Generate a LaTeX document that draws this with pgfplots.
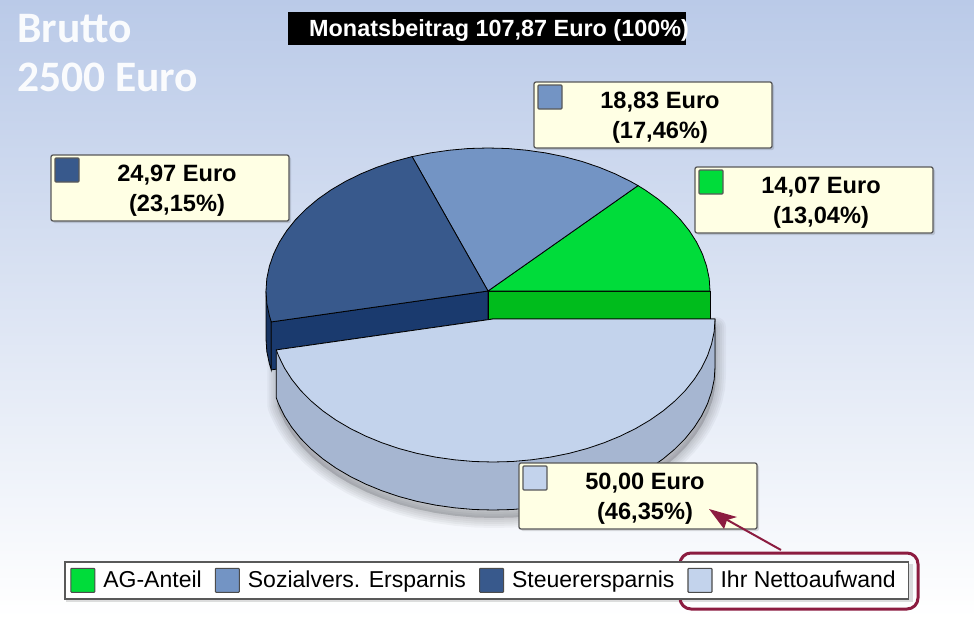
\documentclass[border=0pt]{standalone}
\usepackage{fontspec}
\setmainfont{Liberation Sans}
\newfontfamily\bruttofont{Carlito}
\usepackage{pgfplots}
\usepackage{pgfplotstable}
\pgfplotsset{compat=1.18}
\usetikzlibrary{arrows.meta}
\definecolor{cGreen}{HTML}{00DC3A}
\definecolor{cGreenS}{HTML}{00BC1C}
\definecolor{cBlue}{HTML}{7394C4}
\definecolor{cDark}{HTML}{38598C}
\definecolor{cDarkS}{HTML}{1A3A6E}
\definecolor{cLight}{HTML}{C3D3EC}
\definecolor{cLightS}{HTML}{A6B6D1}
\definecolor{cBox}{HTML}{FFFFE4}
\definecolor{cRed}{HTML}{8C1C40}
\definecolor{bgTop}{HTML}{BACAE8}
\definecolor{bgMid}{HTML}{DFE7F6}
% lower rim of the front slice (depth 48 below its top face)
\pgfplotstableread{
x y
276.3 397.9
278.6 404
284.4 415.9
291.8 427.4
300.7 438.5
311.1 449
322.9 458.9
336 468.1
350.3 476.5
365.7 484.1
382 490.8
399.2 496.6
417.1 501.4
435.5 505.1
454.5 507.8
473.6 509.5
493 510
512.4 509.5
531.5 507.8
550.5 505.1
568.9 501.4
586.8 496.6
604 490.8
620.3 484.1
635.7 476.5
650 468.1
663.1 458.9
674.9 449
685.3 438.5
694.2 427.4
701.6 415.9
707.4 404
711.6 391.8
714.2 379.5
715 367
715 319
493 319
276.3 349.9
}\rimTable
\newcommand{\lab}[6]{%
 \fill[black,opacity=.13,rounded corners=2pt] (axis cs:#1+2,#2+2) rectangle (axis cs:#1+240,#2+68);
 \draw[draw=black!65,line width=1.3pt,fill=cBox,rounded corners=2pt] (axis cs:#1,#2) rectangle (axis cs:#1+238,#2+66);
 \draw[draw=black!65,line width=1.2pt,fill=#3,rounded corners=1pt] (axis cs:#1+4,#2+3) rectangle (axis cs:#1+28,#2+27);
 \node[font=\bfseries\fontsize{23.6}{26}\selectfont,inner sep=0pt,anchor=center] at (axis cs:#1+#6,#2+20.5) {#4};
 \node[font=\bfseries\fontsize{23.6}{26}\selectfont,inner sep=0pt,anchor=center] at (axis cs:#1+#6,#2+50) {#5};
}
\newcommand{\shadowlayer}[2]{%
 \addplot[forget plot,draw=black,fill=black,draw opacity=.035,fill opacity=.03,line width=#1pt,line join=round,xshift=1pt,yshift=-#2pt] table[x=x,y=y] {\rimTable} -- cycle;
}
\begin{document}
\begin{tikzpicture}[x=1pt,y=1pt]
\useasboundingbox (0,0) rectangle (974,618);
\shade[top color=bgTop,middle color=bgMid,bottom color=white,shading angle=0] (0,0) rectangle (974,618);
\begin{axis}[
  at={(0,0)},anchor=south west,
  scale only axis,width=974pt,height=618pt,
  xmin=0,xmax=974,ymin=0,ymax=618,y dir=reverse,
  hide axis,clip=false,
  legend columns=-1,
  legend cell align=left,
  legend image code/.code={\draw[draw=black!70,line width=1.1pt,fill=#1,rounded corners=.8pt] (0pt,-12pt) rectangle (24pt,12pt);},
  legend style={
    at={(axis cs:64,561)},anchor=north west,
    draw=black!65,line width=1.5pt,fill=white,
    inner xsep=5.5pt,inner ysep=6pt,
    font=\fontsize{23}{26}\selectfont,
    nodes={inner sep=0pt,minimum height=24pt,text depth=0pt},
    /tikz/every odd column/.append style={column sep=8pt},
    /tikz/every even column/.append style={column sep=13pt},
  },
]
% soft shadow
\shadowlayer{20}{8}
\shadowlayer{16}{8}
\shadowlayer{12}{8}
\shadowlayer{8}{8}
\shadowlayer{4}{8}
% dark slice: outer rim and cut face
\addplot[forget plot,draw=black,line width=.8pt,fill=cDarkS!88!black] coordinates {
 (266,291) (271.3,321.9) (271.3,369.9) (269.4,363.8) (266.8,351.5) (266,339)} -- cycle;
\addplot[forget plot,draw=black,line width=.8pt,fill=cDarkS] coordinates {
 (488,291) (271.3,321.9) (271.3,369.9) (488,339)} -- cycle;
% green slice: cut face
\addplot[forget plot,draw=black,line width=.8pt,fill=cGreenS] coordinates {
 (488,291) (710,291) (710,339) (488,339)} -- cycle;
% green top
\addplot[draw=black,line width=.8pt,fill=cGreen] coordinates {
 (488,291) (710,291) (709.2,278.5) (706.6,266.2) (702.4,254) (696.6,242.1) (689.2,230.6)
 (680.3,219.5) (669.9,209) (658.1,199.1) (645,189.9) (638,185.6)} -- cycle;
\addlegendentry{\raisebox{1.5pt}{AG-Anteil}}
% blue top
\addplot[draw=black,line width=.8pt,fill=cBlue] coordinates {
 (488,291) (638,185.6) (630.7,181.5) (615.3,173.9) (599,167.2) (581.8,161.4) (563.9,156.6)
 (545.5,152.9) (526.5,150.2) (507.4,148.5) (488,148) (468.6,148.5) (449.5,150.2)
 (430.5,152.9) (412.1,156.6)} -- cycle;
\addlegendentry{\raisebox{1.5pt}{Sozialvers. Ersparnis}}
% dark top
\addplot[draw=black,line width=.8pt,fill=cDark] coordinates {
 (488,291) (412.1,156.6) (394.2,161.4) (377,167.2) (360.7,173.9) (345.3,181.5) (331,189.9)
 (317.9,199.1) (306.1,209) (295.7,219.5) (286.8,230.6) (279.4,242.1) (273.6,254)
 (269.4,266.2) (266.8,278.5) (266,291) (266.8,303.5) (269.4,315.8) (271.3,321.9)} -- cycle;
\addlegendentry{\raisebox{1.5pt}{Steuerersparnis}}
% front slice: rim
\addplot[forget plot,draw=black,line width=.8pt,fill=cLightS] table[x=x,y=y] {\rimTable} -- cycle;
% front slice: top
\addplot[draw=black,line width=.8pt,fill=cLight] coordinates {
 (493,319) (276.3,349.9) (278.6,356) (284.4,367.9) (291.8,379.4) (300.7,390.5) (311.1,401)
 (322.9,410.9) (336,420.1) (350.3,428.5) (365.7,436.1) (382,442.8) (399.2,448.6)
 (417.1,453.4) (435.5,457.1) (454.5,459.8) (473.6,461.5) (493,462) (512.4,461.5)
 (531.5,459.8) (550.5,457.1) (568.9,453.4) (586.8,448.6) (604,442.8) (620.3,436.1)
 (635.7,428.5) (650,420.1) (663.1,410.9) (674.9,401) (685.3,390.5) (694.2,379.4)
 (701.6,367.9) (707.4,356) (711.6,343.8) (714.2,331.5) (715,319)} -- cycle;
\addlegendentry{\raisebox{1.5pt}{Ihr Nettoaufwand}\hspace*{7pt}}
% labels
\lab{534}{82}{cBlue}{18,83 Euro}{(17,46\%)}{126}
\lab{695}{167}{cGreen}{14,07 Euro}{(13,04\%)}{126}
\lab{51}{155}{cDark}{24,97 Euro}{(23,15\%)}{126}
\lab{519}{463}{cLight}{50,00 Euro}{(46,35\%)}{126}
% title
\fill[black] (axis cs:288,12) rectangle (axis cs:686,45);
\node[anchor=west,text=white,inner sep=0pt,font=\bfseries\fontsize{23.4}{26}\selectfont] at (axis cs:309,30.5) {Monatsbeitrag 107,87 Euro (100\%)};
\node[anchor=base west,text=white,opacity=.92,inner sep=0pt,font=\bruttofont\bfseries\fontsize{43.5}{46}\selectfont] at (axis cs:17,43) {Brutto};
\node[anchor=base west,text=white,opacity=.92,inner sep=0pt,font=\bruttofont\bfseries\fontsize{43.5}{46}\selectfont] at (axis cs:17,91) {2500 Euro};
% legend shadow and callout
\fill[black,opacity=.13] (axis cs:66,564) rectangle (axis cs:912.5,602);
\draw[cRed,line width=2pt] (axis cs:781,550) -- (axis cs:722,517);
\fill[cRed] (axis cs:709,509) -- (axis cs:737,517) -- (axis cs:727,520) -- (axis cs:724,529) -- cycle;
\draw[cRed,line width=3pt,rounded corners=11pt] (axis cs:680,553) rectangle (axis cs:918,609);
\end{axis}
\end{tikzpicture}
\end{document}
